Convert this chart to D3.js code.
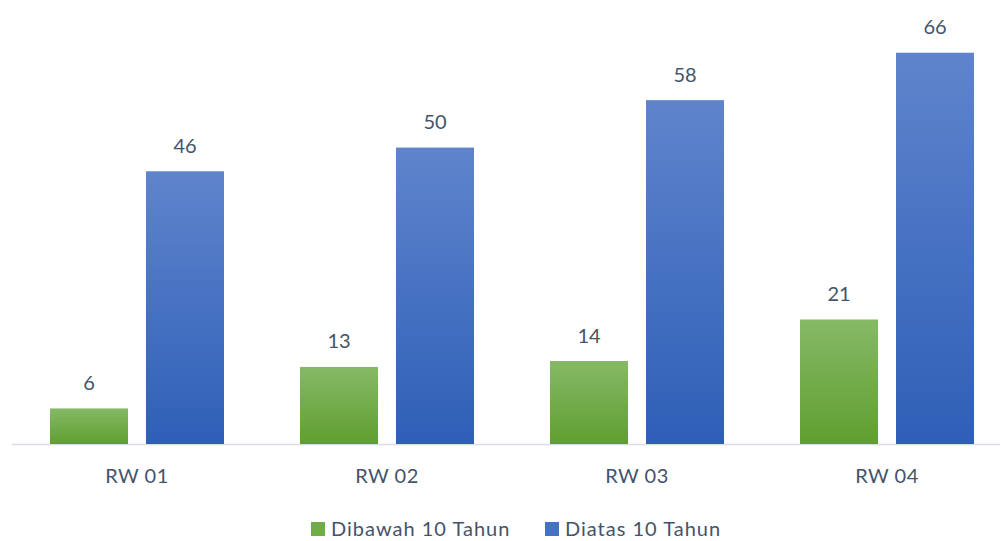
<!DOCTYPE html>
<html>
<head>
<meta charset="utf-8">
<script src="https://cdn.jsdelivr.net/npm/d3@7"></script>
<style>
  body { margin: 0; background: #fff; }
  text { font-family: Lato, "Open Sans", sans-serif; fill: #44546a; }
</style>
</head>
<body>
<div id="chart"></div>
<script>
// data
const categories = ["RW 01", "RW 02", "RW 03", "RW 04"];
const seriesNames = ["Dibawah 10 Tahun", "Diatas 10 Tahun"];
const under10 = [6, 13, 14, 21];
const over10 = [46, 50, 58, 66];

const width = 1001, height = 541;
const baseline = 444;

const svg = d3.select("#chart").append("svg")
    .attr("width", width)
    .attr("height", height);

// gradients for the two series
const defs = svg.append("defs");
const grads = [
    { id: "gGreen", top: "#86b966", bottom: "#5f9f30" },
    { id: "gBlue", top: "#5f84cc", bottom: "#2e5fb7" }
];
grads.forEach(g => {
    const lg = defs.append("linearGradient")
        .attr("id", g.id)
        .attr("x1", 0).attr("y1", 0).attr("x2", 0).attr("y2", 1);
    lg.append("stop").attr("offset", "0%").attr("stop-color", g.top);
    lg.append("stop").attr("offset", "100%").attr("stop-color", g.bottom);
});

const x0 = d3.scaleBand()
    .domain(categories)
    .range([12, 1012])
    .padding(0);

const x1 = d3.scaleBand()
    .domain(seriesNames)
    .range([38, 212])
    .paddingInner(0.1875)
    .paddingOuter(0);

const y = d3.scaleLinear()
    .domain([0, 70])
    .range([baseline, 29]);

const rows = categories.map((c, i) => ({
    cat: c,
    values: [
        { key: seriesNames[0], value: under10[i], fill: "url(#gGreen)" },
        { key: seriesNames[1], value: over10[i], fill: "url(#gBlue)" }
    ]
}));

// axis line
svg.append("line")
    .attr("x1", 12).attr("x2", 1000)
    .attr("y1", baseline + 0.5).attr("y2", baseline + 0.5)
    .attr("stroke", "#d9dde3")
    .attr("stroke-width", 1.5);

const groups = svg.selectAll(".grp")
    .data(rows)
    .enter().append("g")
    .attr("class", "grp")
    .attr("transform", d => `translate(${x0(d.cat)},0)`);

groups.selectAll("rect")
    .data(d => d.values)
    .enter().append("rect")
    .attr("x", d => x1(d.key))
    .attr("y", d => y(d.value))
    .attr("width", x1.bandwidth())
    .attr("height", d => baseline - y(d.value))
    .attr("fill", d => d.fill);

// value labels
groups.selectAll(".val")
    .data(d => d.values)
    .enter().append("text")
    .attr("class", "val")
    .attr("x", d => x1(d.key) + x1.bandwidth() / 2)
    .attr("y", d => y(d.value) - 18.5)
    .attr("text-anchor", "middle")
    .attr("font-size", "20px")
    .text(d => d.value);

// category labels
svg.selectAll(".cat")
    .data(categories)
    .enter().append("text")
    .attr("class", "cat")
    .attr("x", d => x0(d) + x0.bandwidth() / 2)
    .attr("y", 483)
    .attr("text-anchor", "middle")
    .attr("font-size", "20px")
    .style("letter-spacing", "0.5px")
    .text(d => d);

// legend
const legendItems = [
    { name: seriesNames[0], color: "#70ad47", x: 311 },
    { name: seriesNames[1], color: "#4472c4", x: 545 }
];
const legend = svg.selectAll(".leg")
    .data(legendItems)
    .enter().append("g")
    .attr("class", "leg")
    .attr("transform", d => `translate(${d.x},522)`);
legend.append("rect")
    .attr("width", 14).attr("height", 14)
    .attr("fill", d => d.color);
legend.append("text")
    .attr("x", 20)
    .attr("y", 14)
    .attr("font-size", "20px")
    .style("letter-spacing", "1px")
    .text(d => d.name);
</script>
</body>
</html>
